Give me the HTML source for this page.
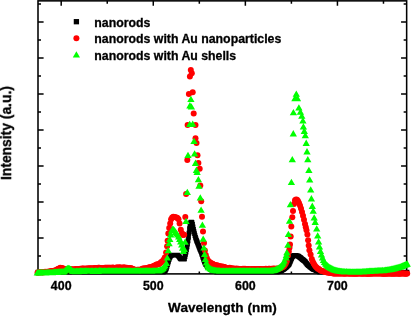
<!DOCTYPE html>
<html><head><meta charset="utf-8"><title>PL spectra</title>
<style>
html,body{margin:0;padding:0;background:#fff;}
body{width:411px;height:316px;overflow:hidden;position:relative;font-family:"Liberation Sans",sans-serif;font-weight:bold;color:#000;}
svg{position:absolute;left:0;top:0;}
.t{position:absolute;white-space:nowrap;line-height:1;-webkit-text-stroke:0.3px #000;filter:blur(0.35px);}
.xl{font-size:12.4px;top:279.7px;width:40px;text-align:center;}
.lg{font-size:12.32px;left:94.3px;}
</style></head><body>
<svg width="411" height="316" viewBox="0 0 411 316">
<defs><filter id="b" x="-5%" y="-5%" width="110%" height="110%"><feGaussianBlur stdDeviation="0.3"/></filter></defs>
<rect x="38.0" y="0.85" width="368.65" height="273.05" fill="none" stroke="#000" stroke-width="1.55"/>
<path d="M61.2 0.85v4.8M61.2 273.9v-4.4M107.24 0.85v2.9M107.24 273.9v-2.4M153.28 0.85v4.8M153.28 273.9v-4.4M199.32 0.85v2.9M199.32 273.9v-2.4M245.36 0.85v4.8M245.36 273.9v-4.4M291.4 0.85v2.9M291.4 273.9v-2.4M337.44 0.85v4.8M337.44 273.9v-4.4M383.48 0.85v2.9M383.48 273.9v-2.4M38 255.9h3M406.65 255.9h-3M38 237.9h5.6M406.65 237.9h-5.6M38 219.9h3M406.65 219.9h-3M38 201.9h5.6M406.65 201.9h-5.6M38 183.9h3M406.65 183.9h-3M38 165.9h5.6M406.65 165.9h-5.6M38 147.9h3M406.65 147.9h-3M38 129.9h5.6M406.65 129.9h-5.6M38 111.9h3M406.65 111.9h-3M38 93.9h5.6M406.65 93.9h-5.6M38 75.9h3M406.65 75.9h-3M38 57.9h5.6M406.65 57.9h-5.6M38 39.9h3M406.65 39.9h-3M38 21.9h5.6M406.65 21.9h-5.6M38 3.9h3M406.65 3.9h-3" stroke="#000" stroke-width="1.5" fill="none"/>
<g filter="url(#b)">
<path d="M35.6 269.8h4.8v4.8h-4.8zM36.1 269.8h4.8v4.8h-4.8zM36.6 269.8h4.8v4.8h-4.8zM37.1 269.8h4.8v4.8h-4.8zM37.6 269.8h4.8v4.8h-4.8zM38.1 269.8h4.8v4.8h-4.8zM38.6 269.8h4.8v4.8h-4.8zM39.1 269.8h4.8v4.8h-4.8zM39.6 269.8h4.8v4.8h-4.8zM40.1 269.8h4.8v4.8h-4.8zM40.6 269.8h4.8v4.8h-4.8zM41.1 269.8h4.8v4.8h-4.8zM41.6 269.8h4.8v4.8h-4.8zM42.1 269.8h4.8v4.8h-4.8zM42.6 269.8h4.8v4.8h-4.8zM43.1 269.8h4.8v4.8h-4.8zM43.6 269.8h4.8v4.8h-4.8zM44.1 269.8h4.8v4.8h-4.8zM44.6 269.8h4.8v4.8h-4.8zM45.1 269.8h4.8v4.8h-4.8zM45.6 269.8h4.8v4.8h-4.8zM46.1 269.8h4.8v4.8h-4.8zM46.6 269.8h4.8v4.8h-4.8zM47.1 269.8h4.8v4.8h-4.8zM47.6 269.8h4.8v4.8h-4.8zM48.1 269.8h4.8v4.8h-4.8zM48.6 269.8h4.8v4.8h-4.8zM49.1 269.8h4.8v4.8h-4.8zM49.6 269.8h4.8v4.8h-4.8zM50.1 269.8h4.8v4.8h-4.8zM50.6 269.8h4.8v4.8h-4.8zM51.1 269.8h4.8v4.8h-4.8zM51.6 269.8h4.8v4.8h-4.8zM52.1 269.8h4.8v4.8h-4.8zM52.6 269.8h4.8v4.8h-4.8zM53.1 269.8h4.8v4.8h-4.8zM53.6 269.8h4.8v4.8h-4.8zM54.1 269.8h4.8v4.8h-4.8zM54.6 269.8h4.8v4.8h-4.8zM55.1 269.8h4.8v4.8h-4.8zM55.6 269.8h4.8v4.8h-4.8zM56.1 269.8h4.8v4.8h-4.8zM56.6 269.8h4.8v4.8h-4.8zM57.1 269.8h4.8v4.8h-4.8zM57.6 269.8h4.8v4.8h-4.8zM58.1 269.8h4.8v4.8h-4.8zM58.6 269.8h4.8v4.8h-4.8zM59.1 269.8h4.8v4.8h-4.8zM59.6 269.8h4.8v4.8h-4.8zM60.1 269.8h4.8v4.8h-4.8zM60.6 269.8h4.8v4.8h-4.8zM61.1 269.8h4.8v4.8h-4.8zM61.6 269.8h4.8v4.8h-4.8zM62.1 269.8h4.8v4.8h-4.8zM62.6 269.8h4.8v4.8h-4.8zM63.1 269.8h4.8v4.8h-4.8zM63.6 269.8h4.8v4.8h-4.8zM64.1 269.8h4.8v4.8h-4.8zM64.6 269.8h4.8v4.8h-4.8zM65.1 269.8h4.8v4.8h-4.8zM65.6 269.8h4.8v4.8h-4.8zM66.1 269.8h4.8v4.8h-4.8zM66.6 269.8h4.8v4.8h-4.8zM67.1 269.8h4.8v4.8h-4.8zM67.6 269.8h4.8v4.8h-4.8zM68.1 269.8h4.8v4.8h-4.8zM68.6 269.8h4.8v4.8h-4.8zM69.1 269.8h4.8v4.8h-4.8zM69.6 269.8h4.8v4.8h-4.8zM70.1 269.8h4.8v4.8h-4.8zM70.6 269.8h4.8v4.8h-4.8zM71.1 269.8h4.8v4.8h-4.8zM71.6 269.8h4.8v4.8h-4.8zM72.1 269.8h4.8v4.8h-4.8zM72.6 269.8h4.8v4.8h-4.8zM73.1 269.8h4.8v4.8h-4.8zM73.6 269.8h4.8v4.8h-4.8zM74.1 269.8h4.8v4.8h-4.8zM74.6 269.8h4.8v4.8h-4.8zM75.1 269.8h4.8v4.8h-4.8zM75.6 269.8h4.8v4.8h-4.8zM76.1 269.8h4.8v4.8h-4.8zM76.6 269.8h4.8v4.8h-4.8zM77.1 269.8h4.8v4.8h-4.8zM77.6 269.8h4.8v4.8h-4.8zM78.1 269.8h4.8v4.8h-4.8zM78.6 269.8h4.8v4.8h-4.8zM79.1 269.8h4.8v4.8h-4.8zM79.6 269.8h4.8v4.8h-4.8zM80.1 269.8h4.8v4.8h-4.8zM80.6 269.8h4.8v4.8h-4.8zM81.1 269.8h4.8v4.8h-4.8zM81.6 269.8h4.8v4.8h-4.8zM82.1 269.8h4.8v4.8h-4.8zM82.6 269.8h4.8v4.8h-4.8zM83.1 269.8h4.8v4.8h-4.8zM83.6 269.8h4.8v4.8h-4.8zM84.1 269.8h4.8v4.8h-4.8zM84.6 269.8h4.8v4.8h-4.8zM85.1 269.8h4.8v4.8h-4.8zM85.6 269.8h4.8v4.8h-4.8zM86.1 269.8h4.8v4.8h-4.8zM86.6 269.8h4.8v4.8h-4.8zM87.1 269.8h4.8v4.8h-4.8zM87.6 269.8h4.8v4.8h-4.8zM88.1 269.8h4.8v4.8h-4.8zM88.6 269.8h4.8v4.8h-4.8zM89.1 269.8h4.8v4.8h-4.8zM89.6 269.8h4.8v4.8h-4.8zM90.1 269.8h4.8v4.8h-4.8zM90.6 269.8h4.8v4.8h-4.8zM91.1 269.8h4.8v4.8h-4.8zM91.6 269.8h4.8v4.8h-4.8zM92.1 269.8h4.8v4.8h-4.8zM92.6 269.8h4.8v4.8h-4.8zM93.1 269.8h4.8v4.8h-4.8zM93.6 269.8h4.8v4.8h-4.8zM94.1 269.8h4.8v4.8h-4.8zM94.6 269.8h4.8v4.8h-4.8zM95.1 269.8h4.8v4.8h-4.8zM95.6 269.8h4.8v4.8h-4.8zM96.1 269.8h4.8v4.8h-4.8zM96.6 269.8h4.8v4.8h-4.8zM97.1 269.8h4.8v4.8h-4.8zM97.6 269.8h4.8v4.8h-4.8zM98.1 269.8h4.8v4.8h-4.8zM98.6 269.8h4.8v4.8h-4.8zM99.1 269.8h4.8v4.8h-4.8zM99.6 269.8h4.8v4.8h-4.8zM100.1 269.8h4.8v4.8h-4.8zM100.6 269.8h4.8v4.8h-4.8zM101.1 269.8h4.8v4.8h-4.8zM101.6 269.8h4.8v4.8h-4.8zM102.1 269.8h4.8v4.8h-4.8zM102.6 269.8h4.8v4.8h-4.8zM103.1 269.8h4.8v4.8h-4.8zM103.6 269.8h4.8v4.8h-4.8zM104.1 269.8h4.8v4.8h-4.8zM104.6 269.8h4.8v4.8h-4.8zM105.1 269.8h4.8v4.8h-4.8zM105.6 269.8h4.8v4.8h-4.8zM106.1 269.8h4.8v4.8h-4.8zM106.6 269.8h4.8v4.8h-4.8zM107.1 269.8h4.8v4.8h-4.8zM107.6 269.8h4.8v4.8h-4.8zM108.1 269.8h4.8v4.8h-4.8zM108.6 269.8h4.8v4.8h-4.8zM109.1 269.8h4.8v4.8h-4.8zM109.6 269.8h4.8v4.8h-4.8zM110.1 269.8h4.8v4.8h-4.8zM110.6 269.8h4.8v4.8h-4.8zM111.1 269.8h4.8v4.8h-4.8zM111.6 269.8h4.8v4.8h-4.8zM112.1 269.8h4.8v4.8h-4.8zM112.6 269.8h4.8v4.8h-4.8zM113.1 269.8h4.8v4.8h-4.8zM113.6 269.8h4.8v4.8h-4.8zM114.1 269.8h4.8v4.8h-4.8zM114.6 269.8h4.8v4.8h-4.8zM115.1 269.8h4.8v4.8h-4.8zM115.6 269.8h4.8v4.8h-4.8zM116.1 269.8h4.8v4.8h-4.8zM116.6 269.8h4.8v4.8h-4.8zM117.1 269.8h4.8v4.8h-4.8zM117.6 269.8h4.8v4.8h-4.8zM118.1 269.8h4.8v4.8h-4.8zM118.6 269.8h4.8v4.8h-4.8zM119.1 269.8h4.8v4.8h-4.8zM119.6 269.8h4.8v4.8h-4.8zM120.1 269.8h4.8v4.8h-4.8zM120.6 269.8h4.8v4.8h-4.8zM121.1 269.8h4.8v4.8h-4.8zM121.6 269.8h4.8v4.8h-4.8zM122.1 269.8h4.8v4.8h-4.8zM122.6 269.8h4.8v4.8h-4.8zM123.1 269.8h4.8v4.8h-4.8zM123.6 269.8h4.8v4.8h-4.8zM124.1 269.8h4.8v4.8h-4.8zM124.6 269.8h4.8v4.8h-4.8zM125.1 269.8h4.8v4.8h-4.8zM125.6 269.8h4.8v4.8h-4.8zM126.1 269.8h4.8v4.8h-4.8zM126.6 269.8h4.8v4.8h-4.8zM127.1 269.8h4.8v4.8h-4.8zM127.6 269.8h4.8v4.8h-4.8zM128.1 269.8h4.8v4.8h-4.8zM128.6 269.8h4.8v4.8h-4.8zM129.1 269.8h4.8v4.8h-4.8zM129.6 269.8h4.8v4.8h-4.8zM130.1 269.8h4.8v4.8h-4.8zM130.6 269.8h4.8v4.8h-4.8zM131.1 269.8h4.8v4.8h-4.8zM131.6 269.8h4.8v4.8h-4.8zM132.1 269.8h4.8v4.8h-4.8zM132.6 269.8h4.8v4.8h-4.8zM133.1 269.8h4.8v4.8h-4.8zM133.6 269.8h4.8v4.8h-4.8zM134.1 269.8h4.8v4.8h-4.8zM134.6 269.8h4.8v4.8h-4.8zM135.1 269.8h4.8v4.8h-4.8zM135.6 269.8h4.8v4.8h-4.8zM136.1 269.8h4.8v4.8h-4.8zM136.6 269.8h4.8v4.8h-4.8zM137.1 269.8h4.8v4.8h-4.8zM137.6 269.8h4.8v4.8h-4.8zM138.1 269.8h4.8v4.8h-4.8zM138.6 269.8h4.8v4.8h-4.8zM139.1 269.8h4.8v4.8h-4.8zM139.6 269.8h4.8v4.8h-4.8zM140.1 269.8h4.8v4.8h-4.8zM140.6 269.8h4.8v4.8h-4.8zM141.1 269.8h4.8v4.8h-4.8zM141.6 269.8h4.8v4.8h-4.8zM142.1 269.8h4.8v4.8h-4.8zM142.6 269.8h4.8v4.8h-4.8zM143.1 269.8h4.8v4.8h-4.8zM143.6 269.8h4.8v4.8h-4.8zM144.1 269.8h4.8v4.8h-4.8zM144.6 269.8h4.8v4.8h-4.8zM145.1 269.8h4.8v4.8h-4.8zM145.6 269.8h4.8v4.8h-4.8zM146.1 269.8h4.8v4.8h-4.8zM146.6 269.8h4.8v4.8h-4.8zM147.1 269.8h4.8v4.8h-4.8zM147.6 269.8h4.8v4.8h-4.8zM148.1 269.8h4.8v4.8h-4.8zM148.6 269.8h4.8v4.8h-4.8zM149.1 269.8h4.8v4.8h-4.8zM149.6 269.8h4.8v4.8h-4.8zM150.1 269.8h4.8v4.8h-4.8zM150.6 269.8h4.8v4.8h-4.8zM151.1 269.8h4.8v4.8h-4.8zM151.6 269.8h4.8v4.8h-4.8zM152.1 269.8h4.8v4.8h-4.8zM152.6 269.8h4.8v4.8h-4.8zM153.1 269.8h4.8v4.8h-4.8zM153.6 269.8h4.8v4.8h-4.8zM154.1 269.8h4.8v4.8h-4.8zM154.6 269.8h4.8v4.8h-4.8zM155.1 269.8h4.8v4.8h-4.8zM155.6 269.8h4.8v4.8h-4.8zM156.1 269.8h4.8v4.8h-4.8zM156.6 269.8h4.8v4.8h-4.8zM157.1 269.8h4.8v4.8h-4.8zM157.6 269.8h4.8v4.8h-4.8zM158.1 269.8h4.8v4.8h-4.8zM158.6 269.8h4.8v4.8h-4.8zM159.1 269.8h4.8v4.8h-4.8zM159.6 269.8h4.8v4.8h-4.8zM160.1 269.8h4.8v4.8h-4.8zM160.6 269.8h4.8v4.8h-4.8zM161.1 269.5h4.8v4.8h-4.8zM161.6 269.2h4.8v4.8h-4.8zM162.1 268.9h4.8v4.8h-4.8zM162.6 268.6h4.8v4.8h-4.8zM163.1 267.6h4.8v4.8h-4.8zM163.6 266.6h4.8v4.8h-4.8zM164.1 265.6h4.8v4.8h-4.8zM164.6 263.93h4.8v4.8h-4.8zM165.1 262.27h4.8v4.8h-4.8zM165.6 260.6h4.8v4.8h-4.8zM166.1 258.93h4.8v4.8h-4.8zM166.6 257.27h4.8v4.8h-4.8zM167.1 255.6h4.8v4.8h-4.8zM167.6 254.6h4.8v4.8h-4.8zM168.1 253.6h4.8v4.8h-4.8zM168.6 253.25h4.8v4.8h-4.8zM169.1 252.9h4.8v4.8h-4.8zM169.6 252.83h4.8v4.8h-4.8zM170.1 252.77h4.8v4.8h-4.8zM170.6 252.7h4.8v4.8h-4.8zM171.1 252.7h4.8v4.8h-4.8zM171.6 252.7h4.8v4.8h-4.8zM172.1 252.7h4.8v4.8h-4.8zM172.6 252.7h4.8v4.8h-4.8zM173.1 252.7h4.8v4.8h-4.8zM173.6 252.7h4.8v4.8h-4.8zM174.1 252.7h4.8v4.8h-4.8zM174.6 252.7h4.8v4.8h-4.8zM175.1 252.85h4.8v4.8h-4.8zM175.6 253h4.8v4.8h-4.8zM176.1 253.55h4.8v4.8h-4.8zM176.6 254.1h4.8v4.8h-4.8zM177.1 254.85h4.8v4.8h-4.8zM177.6 255.6h4.8v4.8h-4.8zM178.1 256.1h4.8v4.8h-4.8zM178.6 256.6h4.8v4.8h-4.8zM179.1 256.77h4.8v4.8h-4.8zM179.6 256.8h4.8v4.8h-4.8zM180.1 256.8h4.8v4.8h-4.8zM180.6 256.8h4.8v4.8h-4.8zM181.1 256.8h4.8v4.8h-4.8zM181.6 256.8h4.8v4.8h-4.8zM182.1 256.35h4.8v4.8h-4.8zM182.6 254.1h4.8v4.8h-4.8zM183.1 251.91h4.8v4.8h-4.8zM183.6 249.6h4.8v4.8h-4.8zM184.1 247.1h4.8v4.8h-4.8zM184.6 244.41h4.8v4.8h-4.8zM185.1 241.6h4.8v4.8h-4.8zM185.6 238.39h4.8v4.8h-4.8zM186.1 234.85h4.8v4.8h-4.8zM186.6 230.8h4.8v4.8h-4.8zM187.1 226.3h4.8v4.8h-4.8zM187.6 222.48h4.8v4.8h-4.8zM188.1 220.43h4.8v4.8h-4.8zM188.6 219.69h4.8v4.8h-4.8zM189.1 219.63h4.8v4.8h-4.8zM189.6 220.31h4.8v4.8h-4.8zM190.1 222.1h4.8v4.8h-4.8zM190.6 224.6h4.8v4.8h-4.8zM191.1 226.99h4.8v4.8h-4.8zM191.6 229.21h4.8v4.8h-4.8zM192.1 231.24h4.8v4.8h-4.8zM192.6 233.14h4.8v4.8h-4.8zM193.1 234.89h4.8v4.8h-4.8zM193.6 236.54h4.8v4.8h-4.8zM194.1 237.96h4.8v4.8h-4.8zM194.6 239.24h4.8v4.8h-4.8zM195.1 240.51h4.8v4.8h-4.8zM195.6 241.78h4.8v4.8h-4.8zM196.1 243.05h4.8v4.8h-4.8zM196.6 244.33h4.8v4.8h-4.8zM197.1 245.6h4.8v4.8h-4.8zM197.6 246.85h4.8v4.8h-4.8zM198.1 248.06h4.8v4.8h-4.8zM198.6 249.2h4.8v4.8h-4.8zM199.1 250.64h4.8v4.8h-4.8zM199.6 252.16h4.8v4.8h-4.8zM200.1 253.8h4.8v4.8h-4.8zM200.6 255.24h4.8v4.8h-4.8zM201.1 256.67h4.8v4.8h-4.8zM201.6 258.02h4.8v4.8h-4.8zM202.1 259.34h4.8v4.8h-4.8zM202.6 260.52h4.8v4.8h-4.8zM203.1 261.7h4.8v4.8h-4.8zM203.6 262.27h4.8v4.8h-4.8zM204.1 262.83h4.8v4.8h-4.8zM204.6 263.4h4.8v4.8h-4.8zM205.1 263.87h4.8v4.8h-4.8zM205.6 264.33h4.8v4.8h-4.8zM206.1 264.8h4.8v4.8h-4.8zM206.6 265.27h4.8v4.8h-4.8zM207.1 265.73h4.8v4.8h-4.8zM207.6 266.2h4.8v4.8h-4.8zM208.1 266.58h4.8v4.8h-4.8zM208.6 266.95h4.8v4.8h-4.8zM209.1 267.33h4.8v4.8h-4.8zM209.6 267.6h4.8v4.8h-4.8zM210.1 267.85h4.8v4.8h-4.8zM210.6 268.1h4.8v4.8h-4.8zM211.1 268.35h4.8v4.8h-4.8zM211.6 268.6h4.8v4.8h-4.8zM212.1 268.77h4.8v4.8h-4.8zM212.6 268.93h4.8v4.8h-4.8zM213.1 269.1h4.8v4.8h-4.8zM213.6 269.27h4.8v4.8h-4.8zM214.1 269.43h4.8v4.8h-4.8zM214.6 269.6h4.8v4.8h-4.8zM215.1 269.63h4.8v4.8h-4.8zM215.6 269.67h4.8v4.8h-4.8zM216.1 269.7h4.8v4.8h-4.8zM216.6 269.73h4.8v4.8h-4.8zM217.1 269.77h4.8v4.8h-4.8zM217.6 269.8h4.8v4.8h-4.8zM218.1 269.8h4.8v4.8h-4.8zM218.6 269.8h4.8v4.8h-4.8zM219.1 269.8h4.8v4.8h-4.8zM219.6 269.8h4.8v4.8h-4.8zM220.1 269.8h4.8v4.8h-4.8zM220.6 269.8h4.8v4.8h-4.8zM221.1 269.8h4.8v4.8h-4.8zM221.6 269.8h4.8v4.8h-4.8zM222.1 269.8h4.8v4.8h-4.8zM222.6 269.8h4.8v4.8h-4.8zM223.1 269.8h4.8v4.8h-4.8zM223.6 269.8h4.8v4.8h-4.8zM224.1 269.8h4.8v4.8h-4.8zM224.6 269.8h4.8v4.8h-4.8zM225.1 269.8h4.8v4.8h-4.8zM225.6 269.8h4.8v4.8h-4.8zM226.1 269.8h4.8v4.8h-4.8zM226.6 269.8h4.8v4.8h-4.8zM227.1 269.8h4.8v4.8h-4.8zM227.6 269.8h4.8v4.8h-4.8zM228.1 269.8h4.8v4.8h-4.8zM228.6 269.8h4.8v4.8h-4.8zM229.1 269.8h4.8v4.8h-4.8zM229.6 269.8h4.8v4.8h-4.8zM230.1 269.8h4.8v4.8h-4.8zM230.6 269.8h4.8v4.8h-4.8zM231.1 269.8h4.8v4.8h-4.8zM231.6 269.8h4.8v4.8h-4.8zM232.1 269.8h4.8v4.8h-4.8zM232.6 269.8h4.8v4.8h-4.8zM233.1 269.8h4.8v4.8h-4.8zM233.6 269.8h4.8v4.8h-4.8zM234.1 269.8h4.8v4.8h-4.8zM234.6 269.8h4.8v4.8h-4.8zM235.1 269.8h4.8v4.8h-4.8zM235.6 269.8h4.8v4.8h-4.8zM236.1 269.8h4.8v4.8h-4.8zM236.6 269.8h4.8v4.8h-4.8zM237.1 269.8h4.8v4.8h-4.8zM237.6 269.8h4.8v4.8h-4.8zM238.1 269.8h4.8v4.8h-4.8zM238.6 269.8h4.8v4.8h-4.8zM239.1 269.8h4.8v4.8h-4.8zM239.6 269.8h4.8v4.8h-4.8zM240.1 269.8h4.8v4.8h-4.8zM240.6 269.8h4.8v4.8h-4.8zM241.1 269.8h4.8v4.8h-4.8zM241.6 269.8h4.8v4.8h-4.8zM242.1 269.8h4.8v4.8h-4.8zM242.6 269.8h4.8v4.8h-4.8zM243.1 269.8h4.8v4.8h-4.8zM243.6 269.8h4.8v4.8h-4.8zM244.1 269.8h4.8v4.8h-4.8zM244.6 269.8h4.8v4.8h-4.8zM245.1 269.8h4.8v4.8h-4.8zM245.6 269.8h4.8v4.8h-4.8zM246.1 269.8h4.8v4.8h-4.8zM246.6 269.8h4.8v4.8h-4.8zM247.1 269.8h4.8v4.8h-4.8zM247.6 269.8h4.8v4.8h-4.8zM248.1 269.8h4.8v4.8h-4.8zM248.6 269.8h4.8v4.8h-4.8zM249.1 269.8h4.8v4.8h-4.8zM249.6 269.8h4.8v4.8h-4.8zM250.1 269.8h4.8v4.8h-4.8zM250.6 269.8h4.8v4.8h-4.8zM251.1 269.8h4.8v4.8h-4.8zM251.6 269.8h4.8v4.8h-4.8zM252.1 269.8h4.8v4.8h-4.8zM252.6 269.8h4.8v4.8h-4.8zM253.1 269.8h4.8v4.8h-4.8zM253.6 269.8h4.8v4.8h-4.8zM254.1 269.8h4.8v4.8h-4.8zM254.6 269.8h4.8v4.8h-4.8zM255.1 269.8h4.8v4.8h-4.8zM255.6 269.8h4.8v4.8h-4.8zM256.1 269.8h4.8v4.8h-4.8zM256.6 269.8h4.8v4.8h-4.8zM257.1 269.8h4.8v4.8h-4.8zM257.6 269.8h4.8v4.8h-4.8zM258.1 269.8h4.8v4.8h-4.8zM258.6 269.8h4.8v4.8h-4.8zM259.1 269.8h4.8v4.8h-4.8zM259.6 269.8h4.8v4.8h-4.8zM260.1 269.8h4.8v4.8h-4.8zM260.6 269.8h4.8v4.8h-4.8zM261.1 269.8h4.8v4.8h-4.8zM261.6 269.8h4.8v4.8h-4.8zM262.1 269.8h4.8v4.8h-4.8zM262.6 269.8h4.8v4.8h-4.8zM263.1 269.8h4.8v4.8h-4.8zM263.6 269.8h4.8v4.8h-4.8zM264.1 269.8h4.8v4.8h-4.8zM264.6 269.8h4.8v4.8h-4.8zM265.1 269.8h4.8v4.8h-4.8zM265.6 269.8h4.8v4.8h-4.8zM266.1 269.8h4.8v4.8h-4.8zM266.6 269.8h4.8v4.8h-4.8zM267.1 269.8h4.8v4.8h-4.8zM267.6 269.8h4.8v4.8h-4.8zM268.1 269.8h4.8v4.8h-4.8zM268.6 269.8h4.8v4.8h-4.8zM269.1 269.8h4.8v4.8h-4.8zM269.6 269.8h4.8v4.8h-4.8zM270.1 269.8h4.8v4.8h-4.8zM270.6 269.8h4.8v4.8h-4.8zM271.1 269.8h4.8v4.8h-4.8zM271.6 269.8h4.8v4.8h-4.8zM272.1 269.8h4.8v4.8h-4.8zM272.6 269.8h4.8v4.8h-4.8zM273.1 269.8h4.8v4.8h-4.8zM273.6 269.8h4.8v4.8h-4.8zM274.1 269.69h4.8v4.8h-4.8zM274.6 269.58h4.8v4.8h-4.8zM275.1 269.46h4.8v4.8h-4.8zM275.6 269.35h4.8v4.8h-4.8zM276.1 269.24h4.8v4.8h-4.8zM276.6 269.12h4.8v4.8h-4.8zM277.1 269.01h4.8v4.8h-4.8zM277.6 268.9h4.8v4.8h-4.8zM278.1 268.63h4.8v4.8h-4.8zM278.6 268.35h4.8v4.8h-4.8zM279.1 268.08h4.8v4.8h-4.8zM279.6 267.81h4.8v4.8h-4.8zM280.1 267.54h4.8v4.8h-4.8zM280.6 267.26h4.8v4.8h-4.8zM281.1 266.94h4.8v4.8h-4.8zM281.6 266.53h4.8v4.8h-4.8zM282.1 266.12h4.8v4.8h-4.8zM282.6 265.71h4.8v4.8h-4.8zM283.1 265.31h4.8v4.8h-4.8zM283.6 264.9h4.8v4.8h-4.8zM284.1 264.42h4.8v4.8h-4.8zM284.6 263.93h4.8v4.8h-4.8zM285.1 263.45h4.8v4.8h-4.8zM285.6 262.97h4.8v4.8h-4.8zM286.1 262.48h4.8v4.8h-4.8zM286.6 262h4.8v4.8h-4.8zM287.1 260.87h4.8v4.8h-4.8zM287.6 259.73h4.8v4.8h-4.8zM288.1 258.6h4.8v4.8h-4.8zM288.6 257.37h4.8v4.8h-4.8zM289.1 256.15h4.8v4.8h-4.8zM289.6 255.05h4.8v4.8h-4.8zM290.1 254.11h4.8v4.8h-4.8zM290.6 253.65h4.8v4.8h-4.8zM291.1 253.2h4.8v4.8h-4.8zM291.6 253.09h4.8v4.8h-4.8zM292.1 252.99h4.8v4.8h-4.8zM292.6 252.91h4.8v4.8h-4.8zM293.1 252.97h4.8v4.8h-4.8zM293.6 253.05h4.8v4.8h-4.8zM294.1 253.19h4.8v4.8h-4.8zM294.6 253.33h4.8v4.8h-4.8zM295.1 253.46h4.8v4.8h-4.8zM295.6 253.6h4.8v4.8h-4.8zM296.1 253.95h4.8v4.8h-4.8zM296.6 254.29h4.8v4.8h-4.8zM297.1 254.64h4.8v4.8h-4.8zM297.6 254.98h4.8v4.8h-4.8zM298.1 255.33h4.8v4.8h-4.8zM298.6 255.8h4.8v4.8h-4.8zM299.1 256.3h4.8v4.8h-4.8zM299.6 256.69h4.8v4.8h-4.8zM300.1 257.08h4.8v4.8h-4.8zM300.6 257.48h4.8v4.8h-4.8zM301.1 257.87h4.8v4.8h-4.8zM301.6 258.26h4.8v4.8h-4.8zM302.1 258.65h4.8v4.8h-4.8zM302.6 259.04h4.8v4.8h-4.8zM303.1 259.67h4.8v4.8h-4.8zM303.6 260.44h4.8v4.8h-4.8zM304.1 261.07h4.8v4.8h-4.8zM304.6 261.66h4.8v4.8h-4.8zM305.1 262.25h4.8v4.8h-4.8zM305.6 262.76h4.8v4.8h-4.8zM306.1 263.16h4.8v4.8h-4.8zM306.6 263.56h4.8v4.8h-4.8zM307.1 263.96h4.8v4.8h-4.8zM307.6 264.35h4.8v4.8h-4.8zM308.1 264.74h4.8v4.8h-4.8zM308.6 265.12h4.8v4.8h-4.8zM309.1 265.5h4.8v4.8h-4.8zM309.6 265.88h4.8v4.8h-4.8zM310.1 266.26h4.8v4.8h-4.8zM310.6 266.65h4.8v4.8h-4.8zM311.1 266.92h4.8v4.8h-4.8zM311.6 267.12h4.8v4.8h-4.8zM312.1 267.32h4.8v4.8h-4.8zM312.6 267.52h4.8v4.8h-4.8zM313.1 267.72h4.8v4.8h-4.8zM313.6 267.92h4.8v4.8h-4.8zM314.1 268.12h4.8v4.8h-4.8zM314.6 268.32h4.8v4.8h-4.8zM315.1 268.52h4.8v4.8h-4.8zM315.6 268.73h4.8v4.8h-4.8zM316.1 268.95h4.8v4.8h-4.8zM316.6 269.17h4.8v4.8h-4.8zM317.1 269.38h4.8v4.8h-4.8zM317.6 269.6h4.8v4.8h-4.8zM318.1 269.65h4.8v4.8h-4.8zM318.6 269.7h4.8v4.8h-4.8zM319.1 269.75h4.8v4.8h-4.8zM319.6 269.8h4.8v4.8h-4.8zM320.1 269.8h4.8v4.8h-4.8zM320.6 269.8h4.8v4.8h-4.8zM321.1 269.8h4.8v4.8h-4.8zM321.6 269.8h4.8v4.8h-4.8zM322.1 269.8h4.8v4.8h-4.8zM322.6 269.8h4.8v4.8h-4.8zM323.1 269.8h4.8v4.8h-4.8zM323.6 269.8h4.8v4.8h-4.8zM324.1 269.8h4.8v4.8h-4.8zM324.6 269.8h4.8v4.8h-4.8zM325.1 269.8h4.8v4.8h-4.8zM325.6 269.8h4.8v4.8h-4.8zM326.1 269.8h4.8v4.8h-4.8zM326.6 269.8h4.8v4.8h-4.8zM327.1 269.8h4.8v4.8h-4.8zM327.6 269.8h4.8v4.8h-4.8zM328.1 269.8h4.8v4.8h-4.8zM328.6 269.8h4.8v4.8h-4.8zM329.1 269.8h4.8v4.8h-4.8zM329.6 269.8h4.8v4.8h-4.8zM330.1 269.8h4.8v4.8h-4.8zM330.6 269.8h4.8v4.8h-4.8zM331.1 269.8h4.8v4.8h-4.8zM331.6 269.8h4.8v4.8h-4.8zM332.1 269.8h4.8v4.8h-4.8zM332.6 269.8h4.8v4.8h-4.8zM333.1 269.8h4.8v4.8h-4.8zM333.6 269.8h4.8v4.8h-4.8zM334.1 269.8h4.8v4.8h-4.8zM334.6 269.8h4.8v4.8h-4.8zM335.1 269.8h4.8v4.8h-4.8zM335.6 269.8h4.8v4.8h-4.8zM336.1 269.8h4.8v4.8h-4.8zM336.6 269.8h4.8v4.8h-4.8zM337.1 269.8h4.8v4.8h-4.8zM337.6 269.8h4.8v4.8h-4.8zM338.1 269.8h4.8v4.8h-4.8zM338.6 269.8h4.8v4.8h-4.8zM339.1 269.8h4.8v4.8h-4.8zM339.6 269.8h4.8v4.8h-4.8zM340.1 269.8h4.8v4.8h-4.8zM340.6 269.8h4.8v4.8h-4.8zM341.1 269.8h4.8v4.8h-4.8zM341.6 269.8h4.8v4.8h-4.8zM342.1 269.8h4.8v4.8h-4.8zM342.6 269.8h4.8v4.8h-4.8zM343.1 269.8h4.8v4.8h-4.8zM343.6 269.8h4.8v4.8h-4.8zM344.1 269.8h4.8v4.8h-4.8zM344.6 269.8h4.8v4.8h-4.8zM345.1 269.8h4.8v4.8h-4.8zM345.6 269.8h4.8v4.8h-4.8zM346.1 269.8h4.8v4.8h-4.8zM346.6 269.8h4.8v4.8h-4.8zM347.1 269.8h4.8v4.8h-4.8zM347.6 269.8h4.8v4.8h-4.8zM348.1 269.8h4.8v4.8h-4.8zM348.6 269.8h4.8v4.8h-4.8zM349.1 269.8h4.8v4.8h-4.8zM349.6 269.8h4.8v4.8h-4.8zM350.1 269.8h4.8v4.8h-4.8zM350.6 269.8h4.8v4.8h-4.8zM351.1 269.8h4.8v4.8h-4.8zM351.6 269.8h4.8v4.8h-4.8zM352.1 269.8h4.8v4.8h-4.8zM352.6 269.8h4.8v4.8h-4.8zM353.1 269.8h4.8v4.8h-4.8zM353.6 269.8h4.8v4.8h-4.8zM354.1 269.8h4.8v4.8h-4.8zM354.6 269.8h4.8v4.8h-4.8zM355.1 269.8h4.8v4.8h-4.8zM355.6 269.8h4.8v4.8h-4.8zM356.1 269.8h4.8v4.8h-4.8zM356.6 269.8h4.8v4.8h-4.8zM357.1 269.8h4.8v4.8h-4.8zM357.6 269.8h4.8v4.8h-4.8zM358.1 269.8h4.8v4.8h-4.8zM358.6 269.8h4.8v4.8h-4.8zM359.1 269.8h4.8v4.8h-4.8zM359.6 269.8h4.8v4.8h-4.8zM360.1 269.8h4.8v4.8h-4.8zM360.6 269.8h4.8v4.8h-4.8zM361.1 269.8h4.8v4.8h-4.8zM361.6 269.8h4.8v4.8h-4.8zM362.1 269.8h4.8v4.8h-4.8zM362.6 269.8h4.8v4.8h-4.8zM363.1 269.8h4.8v4.8h-4.8zM363.6 269.8h4.8v4.8h-4.8zM364.1 269.8h4.8v4.8h-4.8zM364.6 269.8h4.8v4.8h-4.8zM365.1 269.8h4.8v4.8h-4.8zM365.6 269.8h4.8v4.8h-4.8zM366.1 269.8h4.8v4.8h-4.8zM366.6 269.8h4.8v4.8h-4.8zM367.1 269.8h4.8v4.8h-4.8zM367.6 269.8h4.8v4.8h-4.8zM368.1 269.8h4.8v4.8h-4.8zM368.6 269.8h4.8v4.8h-4.8zM369.1 269.8h4.8v4.8h-4.8zM369.6 269.8h4.8v4.8h-4.8zM370.1 269.8h4.8v4.8h-4.8zM370.6 269.8h4.8v4.8h-4.8zM371.1 269.8h4.8v4.8h-4.8zM371.6 269.8h4.8v4.8h-4.8zM372.1 269.8h4.8v4.8h-4.8zM372.6 269.8h4.8v4.8h-4.8zM373.1 269.8h4.8v4.8h-4.8zM373.6 269.8h4.8v4.8h-4.8zM374.1 269.8h4.8v4.8h-4.8zM374.6 269.8h4.8v4.8h-4.8zM375.1 269.8h4.8v4.8h-4.8zM375.6 269.8h4.8v4.8h-4.8zM376.1 269.8h4.8v4.8h-4.8zM376.6 269.8h4.8v4.8h-4.8zM377.1 269.8h4.8v4.8h-4.8zM377.6 269.8h4.8v4.8h-4.8zM378.1 269.8h4.8v4.8h-4.8zM378.6 269.8h4.8v4.8h-4.8zM379.1 269.8h4.8v4.8h-4.8zM379.6 269.8h4.8v4.8h-4.8zM380.1 269.8h4.8v4.8h-4.8zM380.6 269.8h4.8v4.8h-4.8zM381.1 269.8h4.8v4.8h-4.8zM381.6 269.8h4.8v4.8h-4.8zM382.1 269.8h4.8v4.8h-4.8zM382.6 269.8h4.8v4.8h-4.8zM383.1 269.8h4.8v4.8h-4.8zM383.6 269.8h4.8v4.8h-4.8zM384.1 269.8h4.8v4.8h-4.8zM384.6 269.8h4.8v4.8h-4.8zM385.1 269.8h4.8v4.8h-4.8zM385.6 269.8h4.8v4.8h-4.8zM386.1 269.8h4.8v4.8h-4.8zM386.6 269.8h4.8v4.8h-4.8zM387.1 269.8h4.8v4.8h-4.8zM387.6 269.8h4.8v4.8h-4.8zM388.1 269.8h4.8v4.8h-4.8zM388.6 269.8h4.8v4.8h-4.8zM389.1 269.8h4.8v4.8h-4.8zM389.6 269.8h4.8v4.8h-4.8zM390.1 269.8h4.8v4.8h-4.8zM390.6 269.8h4.8v4.8h-4.8zM391.1 269.8h4.8v4.8h-4.8zM391.6 269.8h4.8v4.8h-4.8zM392.1 269.8h4.8v4.8h-4.8zM392.6 269.8h4.8v4.8h-4.8zM393.1 269.8h4.8v4.8h-4.8zM393.6 269.8h4.8v4.8h-4.8zM394.1 269.8h4.8v4.8h-4.8zM394.6 269.8h4.8v4.8h-4.8zM395.1 269.8h4.8v4.8h-4.8zM395.6 269.8h4.8v4.8h-4.8zM396.1 269.8h4.8v4.8h-4.8zM396.6 269.8h4.8v4.8h-4.8zM397.1 269.8h4.8v4.8h-4.8zM397.6 269.8h4.8v4.8h-4.8zM398.1 269.8h4.8v4.8h-4.8zM398.6 269.8h4.8v4.8h-4.8zM399.1 269.8h4.8v4.8h-4.8zM399.6 269.8h4.8v4.8h-4.8zM400.1 269.8h4.8v4.8h-4.8zM400.6 269.8h4.8v4.8h-4.8zM401.1 269.8h4.8v4.8h-4.8zM401.6 269.8h4.8v4.8h-4.8zM402.1 269.8h4.8v4.8h-4.8zM402.6 269.8h4.8v4.8h-4.8zM403.1 269.8h4.8v4.8h-4.8zM403.6 269.8h4.8v4.8h-4.8zM404.1 269.8h4.8v4.8h-4.8zM404.6 269.8h4.8v4.8h-4.8z" fill="#000"/>
<g fill="#f00"><circle cx="37.5" cy="272.73" r="3"/><circle cx="38.45" cy="272.31" r="3"/><circle cx="39.4" cy="272.44" r="3"/><circle cx="40.35" cy="272.27" r="3"/><circle cx="41.3" cy="271.98" r="3"/><circle cx="42.25" cy="272.43" r="3"/><circle cx="43.2" cy="272.21" r="3"/><circle cx="44.15" cy="272.31" r="3"/><circle cx="45.1" cy="271.81" r="3"/><circle cx="46.05" cy="271.96" r="3"/><circle cx="47" cy="271.83" r="3"/><circle cx="47.95" cy="271.94" r="3"/><circle cx="48.9" cy="271.41" r="3"/><circle cx="49.85" cy="271.44" r="3"/><circle cx="50.8" cy="271.37" r="3"/><circle cx="51.75" cy="270.92" r="3"/><circle cx="52.7" cy="271.09" r="3"/><circle cx="53.65" cy="270.99" r="3"/><circle cx="54.6" cy="270.52" r="3"/><circle cx="55.55" cy="270.42" r="3"/><circle cx="56.5" cy="269.97" r="3"/><circle cx="57.45" cy="269.13" r="3"/><circle cx="58.4" cy="268.66" r="3"/><circle cx="59.35" cy="268.54" r="3"/><circle cx="60.3" cy="267.82" r="3"/><circle cx="61.25" cy="267.93" r="3"/><circle cx="62.2" cy="268.08" r="3"/><circle cx="63.15" cy="268.64" r="3"/><circle cx="64.1" cy="268.84" r="3"/><circle cx="65.05" cy="269.6" r="3"/><circle cx="66" cy="269.44" r="3"/><circle cx="66.95" cy="269.53" r="3"/><circle cx="67.9" cy="269.6" r="3"/><circle cx="68.85" cy="269.32" r="3"/><circle cx="69.8" cy="269.53" r="3"/><circle cx="70.75" cy="269.24" r="3"/><circle cx="71.7" cy="269.15" r="3"/><circle cx="72.65" cy="269.49" r="3"/><circle cx="73.6" cy="269.42" r="3"/><circle cx="74.55" cy="269.42" r="3"/><circle cx="75.5" cy="269.05" r="3"/><circle cx="76.45" cy="269.22" r="3"/><circle cx="77.4" cy="268.93" r="3"/><circle cx="78.35" cy="269.3" r="3"/><circle cx="79.3" cy="269.21" r="3"/><circle cx="80.25" cy="268.74" r="3"/><circle cx="81.2" cy="269.15" r="3"/><circle cx="82.15" cy="268.59" r="3"/><circle cx="83.1" cy="268.49" r="3"/><circle cx="84.05" cy="268.89" r="3"/><circle cx="85" cy="268.56" r="3"/><circle cx="85.95" cy="268.67" r="3"/><circle cx="86.9" cy="268.71" r="3"/><circle cx="87.85" cy="268.25" r="3"/><circle cx="88.8" cy="268.69" r="3"/><circle cx="89.75" cy="268.32" r="3"/><circle cx="90.7" cy="268.39" r="3"/><circle cx="91.65" cy="268.28" r="3"/><circle cx="92.6" cy="268.51" r="3"/><circle cx="93.55" cy="268.47" r="3"/><circle cx="94.5" cy="268.11" r="3"/><circle cx="95.45" cy="267.93" r="3"/><circle cx="96.4" cy="268.03" r="3"/><circle cx="97.35" cy="268.06" r="3"/><circle cx="98.3" cy="267.78" r="3"/><circle cx="99.25" cy="267.79" r="3"/><circle cx="100.2" cy="268.18" r="3"/><circle cx="101.15" cy="268.11" r="3"/><circle cx="102.1" cy="268.29" r="3"/><circle cx="103.05" cy="268.27" r="3"/><circle cx="104" cy="268.17" r="3"/><circle cx="104.95" cy="267.8" r="3"/><circle cx="105.9" cy="267.63" r="3"/><circle cx="106.85" cy="267.71" r="3"/><circle cx="107.8" cy="267.79" r="3"/><circle cx="108.75" cy="267.82" r="3"/><circle cx="109.7" cy="267.81" r="3"/><circle cx="110.65" cy="267.66" r="3"/><circle cx="111.6" cy="267.98" r="3"/><circle cx="112.55" cy="267.56" r="3"/><circle cx="113.5" cy="267.67" r="3"/><circle cx="114.45" cy="267.97" r="3"/><circle cx="115.4" cy="267.91" r="3"/><circle cx="116.35" cy="267.56" r="3"/><circle cx="117.3" cy="267.52" r="3"/><circle cx="118.25" cy="267.91" r="3"/><circle cx="119.2" cy="267.36" r="3"/><circle cx="120.15" cy="267.44" r="3"/><circle cx="121.1" cy="267.72" r="3"/><circle cx="122.05" cy="267.73" r="3"/><circle cx="123" cy="267.49" r="3"/><circle cx="123.95" cy="267.44" r="3"/><circle cx="124.9" cy="267.58" r="3"/><circle cx="125.85" cy="268" r="3"/><circle cx="126.8" cy="267.81" r="3"/><circle cx="127.75" cy="268.2" r="3"/><circle cx="128.7" cy="268.09" r="3"/><circle cx="129.65" cy="268.43" r="3"/><circle cx="130.6" cy="268.05" r="3"/><circle cx="131.55" cy="268.44" r="3"/><circle cx="132.5" cy="268.66" r="3"/><circle cx="133.45" cy="269.33" r="3"/><circle cx="134.4" cy="269.65" r="3"/><circle cx="135.35" cy="269.69" r="3"/><circle cx="136.3" cy="270.03" r="3"/><circle cx="137.25" cy="269.72" r="3"/><circle cx="138.2" cy="269.87" r="3"/><circle cx="139.15" cy="269.82" r="3"/><circle cx="140.1" cy="270.17" r="3"/><circle cx="141.05" cy="269.48" r="3"/><circle cx="142" cy="268.94" r="3"/><circle cx="142.95" cy="268.43" r="3"/><circle cx="143.9" cy="268.5" r="3"/><circle cx="144.85" cy="268.45" r="3"/><circle cx="145.8" cy="268.29" r="3"/><circle cx="146.75" cy="268.26" r="3"/><circle cx="147.7" cy="267.99" r="3"/><circle cx="148.65" cy="267.4" r="3"/><circle cx="149.6" cy="267.13" r="3"/><circle cx="150.55" cy="267.28" r="3"/><circle cx="151.5" cy="266.96" r="3"/><circle cx="152.45" cy="266.42" r="3"/><circle cx="153.4" cy="266.3" r="3"/><circle cx="154.35" cy="265.76" r="3"/><circle cx="155.3" cy="265.22" r="3"/><circle cx="156.25" cy="264.8" r="3"/><circle cx="157.2" cy="264.35" r="3"/><circle cx="158.15" cy="264.39" r="3"/><circle cx="159.1" cy="263.88" r="3"/><circle cx="160.05" cy="263.2" r="3"/><circle cx="161" cy="262.2" r="3"/><circle cx="161.95" cy="261.65" r="3"/><circle cx="162.9" cy="260.68" r="3"/><circle cx="163.85" cy="259.41" r="3"/><circle cx="164.8" cy="257.41" r="3"/><circle cx="166.1" cy="252.4" r="3"/><circle cx="167.1" cy="246.3" r="3"/><circle cx="167.6" cy="240.7" r="3"/><circle cx="168.3" cy="233.5" r="3"/><circle cx="169.2" cy="228" r="3"/><circle cx="170.2" cy="223.5" r="3"/><circle cx="171.1" cy="219.3" r="3"/><circle cx="172.2" cy="217.5" r="3"/><circle cx="173.3" cy="216.8" r="3"/><circle cx="174.3" cy="217" r="3"/><circle cx="175.4" cy="217.2" r="3"/><circle cx="176.5" cy="217.6" r="3"/><circle cx="177.5" cy="218.1" r="3"/><circle cx="178.5" cy="219.2" r="3"/><circle cx="179.6" cy="223.4" r="3"/><circle cx="180.8" cy="229.8" r="3"/><circle cx="182" cy="233.2" r="3"/><circle cx="183" cy="235" r="3"/><circle cx="184.2" cy="234.8" r="3"/><circle cx="185.3" cy="217" r="3"/><circle cx="186.1" cy="193.9" r="3"/><circle cx="187.3" cy="160.1" r="3"/><circle cx="187.6" cy="124.9" r="3"/><circle cx="188.9" cy="93.9" r="3"/><circle cx="189.9" cy="76.5" r="3"/><circle cx="190.8" cy="70.1" r="3"/><circle cx="191.8" cy="73.3" r="3"/><circle cx="192.7" cy="92.3" r="3"/><circle cx="193.7" cy="113.6" r="3"/><circle cx="195.5" cy="124.9" r="3"/><circle cx="195.5" cy="138.2" r="3"/><circle cx="196.5" cy="142.9" r="3"/><circle cx="197.5" cy="155.3" r="3"/><circle cx="198.4" cy="162.9" r="3"/><circle cx="199.7" cy="168.7" r="3"/><circle cx="200.3" cy="185.5" r="3"/><circle cx="201.2" cy="201.3" r="3"/><circle cx="202" cy="216.8" r="3"/><circle cx="203" cy="231.6" r="3"/><circle cx="204" cy="243" r="3"/><circle cx="204.9" cy="250.5" r="3"/><circle cx="205.8" cy="255" r="3"/><circle cx="206.8" cy="258" r="3"/><circle cx="207.8" cy="260.2" r="3"/><circle cx="208.8" cy="261.6" r="3"/><circle cx="209.8" cy="262.28" r="3"/><circle cx="210.75" cy="262.98" r="3"/><circle cx="211.7" cy="263.4" r="3"/><circle cx="212.65" cy="263.86" r="3"/><circle cx="213.6" cy="264.53" r="3"/><circle cx="214.55" cy="265.09" r="3"/><circle cx="215.5" cy="265.19" r="3"/><circle cx="216.45" cy="265.34" r="3"/><circle cx="217.4" cy="265.53" r="3"/><circle cx="218.35" cy="265.82" r="3"/><circle cx="219.3" cy="266.25" r="3"/><circle cx="220.25" cy="266.26" r="3"/><circle cx="221.2" cy="266.79" r="3"/><circle cx="222.15" cy="266.52" r="3"/><circle cx="223.1" cy="266.81" r="3"/><circle cx="224.05" cy="267.12" r="3"/><circle cx="225" cy="267.25" r="3"/><circle cx="225.95" cy="267.7" r="3"/><circle cx="226.9" cy="267.88" r="3"/><circle cx="227.85" cy="268.13" r="3"/><circle cx="228.8" cy="268.07" r="3"/><circle cx="229.75" cy="267.84" r="3"/><circle cx="230.7" cy="268.29" r="3"/><circle cx="231.65" cy="268.4" r="3"/><circle cx="232.6" cy="268.48" r="3"/><circle cx="233.55" cy="268.48" r="3"/><circle cx="234.5" cy="268.86" r="3"/><circle cx="235.45" cy="269.06" r="3"/><circle cx="236.4" cy="268.6" r="3"/><circle cx="237.35" cy="268.96" r="3"/><circle cx="238.3" cy="268.81" r="3"/><circle cx="239.25" cy="268.92" r="3"/><circle cx="240.2" cy="269.17" r="3"/><circle cx="241.15" cy="269.23" r="3"/><circle cx="242.1" cy="269.06" r="3"/><circle cx="243.05" cy="268.82" r="3"/><circle cx="244" cy="269.28" r="3"/><circle cx="244.95" cy="268.86" r="3"/><circle cx="245.9" cy="269" r="3"/><circle cx="246.85" cy="269.29" r="3"/><circle cx="247.8" cy="269.01" r="3"/><circle cx="248.75" cy="269.01" r="3"/><circle cx="249.7" cy="269.44" r="3"/><circle cx="250.65" cy="269.46" r="3"/><circle cx="251.6" cy="269.11" r="3"/><circle cx="252.55" cy="269.17" r="3"/><circle cx="253.5" cy="269.13" r="3"/><circle cx="254.45" cy="269.07" r="3"/><circle cx="255.4" cy="269.14" r="3"/><circle cx="256.35" cy="269.56" r="3"/><circle cx="257.3" cy="269" r="3"/><circle cx="258.25" cy="269.07" r="3"/><circle cx="259.2" cy="269.04" r="3"/><circle cx="260.15" cy="268.94" r="3"/><circle cx="261.1" cy="269.19" r="3"/><circle cx="262.05" cy="269.3" r="3"/><circle cx="263" cy="269.34" r="3"/><circle cx="263.95" cy="269.2" r="3"/><circle cx="264.9" cy="269.29" r="3"/><circle cx="265.85" cy="268.79" r="3"/><circle cx="266.8" cy="268.93" r="3"/><circle cx="267.75" cy="269.32" r="3"/><circle cx="268.7" cy="268.77" r="3"/><circle cx="269.65" cy="268.87" r="3"/><circle cx="270.6" cy="268.96" r="3"/><circle cx="271.55" cy="268.79" r="3"/><circle cx="272.5" cy="268.92" r="3"/><circle cx="273.45" cy="268.57" r="3"/><circle cx="274.4" cy="268.65" r="3"/><circle cx="275.35" cy="269.04" r="3"/><circle cx="276.3" cy="268.51" r="3"/><circle cx="277.25" cy="268.92" r="3"/><circle cx="278.2" cy="268.44" r="3"/><circle cx="279.15" cy="268.84" r="3"/><circle cx="280.1" cy="268.32" r="3"/><circle cx="281.05" cy="267.97" r="3"/><circle cx="282" cy="267.34" r="3"/><circle cx="282.95" cy="266.95" r="3"/><circle cx="283.9" cy="266.52" r="3"/><circle cx="284.85" cy="265.07" r="3"/><circle cx="285.8" cy="263.62" r="3"/><circle cx="286.75" cy="261.19" r="3"/><circle cx="288" cy="255.5" r="3"/><circle cx="288.8" cy="251.5" r="3"/><circle cx="289.5" cy="247.8" r="3"/><circle cx="290" cy="244.6" r="3"/><circle cx="290.7" cy="236.4" r="3"/><circle cx="291.3" cy="226.4" r="3"/><circle cx="292.3" cy="217.2" r="3"/><circle cx="293" cy="210.9" r="3"/><circle cx="294" cy="204" r="3"/><circle cx="295" cy="200.2" r="3"/><circle cx="296" cy="199.5" r="3"/><circle cx="297" cy="199.7" r="3"/><circle cx="298" cy="201" r="3"/><circle cx="299" cy="203" r="3"/><circle cx="300" cy="205.6" r="3"/><circle cx="301" cy="208.6" r="3"/><circle cx="302" cy="212" r="3"/><circle cx="303" cy="215.8" r="3"/><circle cx="304" cy="219.8" r="3"/><circle cx="305" cy="224" r="3"/><circle cx="305.8" cy="227.2" r="3"/><circle cx="306.5" cy="230.2" r="3"/><circle cx="307.4" cy="234.5" r="3"/><circle cx="308.1" cy="240.2" r="3"/><circle cx="308.7" cy="245.6" r="3"/><circle cx="309.4" cy="250.2" r="3"/><circle cx="310.6" cy="254.6" r="3"/><circle cx="311.8" cy="258.9" r="3"/><circle cx="312.7" cy="261.4" r="3"/><circle cx="313.7" cy="263.4" r="3"/><circle cx="314.7" cy="265.2" r="3"/><circle cx="315.8" cy="266.7" r="3"/><circle cx="316.9" cy="267.8" r="3"/><circle cx="317.9" cy="268.67" r="3"/><circle cx="318.85" cy="269.12" r="3"/><circle cx="319.8" cy="269.92" r="3"/><circle cx="320.75" cy="270.45" r="3"/><circle cx="321.7" cy="270.89" r="3"/><circle cx="322.65" cy="271.11" r="3"/><circle cx="323.6" cy="271.44" r="3"/><circle cx="324.55" cy="271.83" r="3"/><circle cx="325.5" cy="271.96" r="3"/><circle cx="326.45" cy="272.2" r="3"/><circle cx="327.4" cy="272.47" r="3"/><circle cx="328.35" cy="272.62" r="3"/><circle cx="329.3" cy="272.78" r="3"/><circle cx="330.25" cy="273.01" r="3"/><circle cx="331.2" cy="272.97" r="3"/><circle cx="332.15" cy="273.11" r="3"/><circle cx="333.1" cy="273.38" r="3"/><circle cx="334.05" cy="273.5" r="3"/><circle cx="335" cy="273.51" r="3"/><circle cx="335.95" cy="273.38" r="3"/><circle cx="336.9" cy="273.42" r="3"/><circle cx="337.85" cy="273.56" r="3"/><circle cx="338.8" cy="273.48" r="3"/><circle cx="339.75" cy="273.55" r="3"/><circle cx="340.7" cy="273.48" r="3"/><circle cx="341.65" cy="273.44" r="3"/><circle cx="342.6" cy="273.53" r="3"/><circle cx="343.55" cy="273.62" r="3"/><circle cx="344.5" cy="273.65" r="3"/><circle cx="345.45" cy="273.61" r="3"/><circle cx="346.4" cy="273.59" r="3"/><circle cx="347.35" cy="273.61" r="3"/><circle cx="348.3" cy="273.59" r="3"/><circle cx="349.25" cy="273.61" r="3"/><circle cx="350.2" cy="273.67" r="3"/><circle cx="351.15" cy="273.54" r="3"/><circle cx="352.1" cy="273.62" r="3"/><circle cx="353.05" cy="273.69" r="3"/><circle cx="354" cy="273.67" r="3"/><circle cx="354.95" cy="273.54" r="3"/><circle cx="355.9" cy="273.69" r="3"/><circle cx="356.85" cy="273.67" r="3"/><circle cx="357.8" cy="273.53" r="3"/><circle cx="358.75" cy="273.55" r="3"/><circle cx="359.7" cy="273.54" r="3"/><circle cx="360.65" cy="273.51" r="3"/><circle cx="361.6" cy="273.7" r="3"/><circle cx="362.55" cy="273.58" r="3"/><circle cx="363.5" cy="273.67" r="3"/><circle cx="364.45" cy="273.52" r="3"/><circle cx="365.4" cy="273.5" r="3"/><circle cx="366.35" cy="273.67" r="3"/><circle cx="367.3" cy="273.66" r="3"/><circle cx="368.25" cy="273.7" r="3"/><circle cx="369.2" cy="273.64" r="3"/><circle cx="370.15" cy="273.61" r="3"/><circle cx="371.1" cy="273.65" r="3"/><circle cx="372.05" cy="273.52" r="3"/><circle cx="373" cy="273.61" r="3"/><circle cx="373.95" cy="273.59" r="3"/><circle cx="374.9" cy="273.53" r="3"/><circle cx="375.85" cy="273.62" r="3"/><circle cx="376.8" cy="273.56" r="3"/><circle cx="377.75" cy="273.6" r="3"/><circle cx="378.7" cy="273.57" r="3"/><circle cx="379.65" cy="273.56" r="3"/><circle cx="380.6" cy="273.57" r="3"/><circle cx="381.55" cy="273.62" r="3"/><circle cx="382.5" cy="273.7" r="3"/><circle cx="383.45" cy="273.69" r="3"/><circle cx="384.4" cy="273.67" r="3"/><circle cx="385.35" cy="273.67" r="3"/><circle cx="386.3" cy="273.56" r="3"/><circle cx="387.25" cy="273.7" r="3"/><circle cx="388.2" cy="273.55" r="3"/><circle cx="389.15" cy="273.52" r="3"/><circle cx="390.1" cy="273.6" r="3"/><circle cx="391.05" cy="273.65" r="3"/><circle cx="392" cy="273.57" r="3"/><circle cx="392.95" cy="273.63" r="3"/><circle cx="393.9" cy="273.56" r="3"/><circle cx="394.85" cy="273.69" r="3"/><circle cx="395.8" cy="273.59" r="3"/><circle cx="396.75" cy="273.6" r="3"/><circle cx="397.7" cy="273.61" r="3"/><circle cx="398.65" cy="273.67" r="3"/><circle cx="399.6" cy="273.7" r="3"/><circle cx="400.55" cy="273.61" r="3"/><circle cx="401.5" cy="273.59" r="3"/><circle cx="402.45" cy="273.62" r="3"/><circle cx="403.4" cy="273.51" r="3"/><circle cx="404.35" cy="273.59" r="3"/><circle cx="405.3" cy="273.67" r="3"/><circle cx="406.25" cy="273.66" r="3"/><circle cx="407.2" cy="273.51" r="3"/></g>
<path d="M37.3 269.31l3.65 6.3h-7.3zM38.25 269.02l3.65 6.3h-7.3zM39.2 269.37l3.65 6.3h-7.3zM40.15 269l3.65 6.3h-7.3zM41.1 268.9l3.65 6.3h-7.3zM42.05 269.09l3.65 6.3h-7.3zM43 269.28l3.65 6.3h-7.3zM43.95 269.01l3.65 6.3h-7.3zM44.9 269.26l3.65 6.3h-7.3zM45.85 269.16l3.65 6.3h-7.3zM46.8 268.94l3.65 6.3h-7.3zM47.75 268.9l3.65 6.3h-7.3zM48.7 269.01l3.65 6.3h-7.3zM49.65 268.94l3.65 6.3h-7.3zM50.6 268.88l3.65 6.3h-7.3zM51.55 268.99l3.65 6.3h-7.3zM52.5 269.06l3.65 6.3h-7.3zM53.45 268.82l3.65 6.3h-7.3zM54.4 268.49l3.65 6.3h-7.3zM55.35 268.48l3.65 6.3h-7.3zM56.3 268.51l3.65 6.3h-7.3zM57.25 268.62l3.65 6.3h-7.3zM58.2 268.29l3.65 6.3h-7.3zM59.15 268.21l3.65 6.3h-7.3zM60.1 268.32l3.65 6.3h-7.3zM61.05 268.25l3.65 6.3h-7.3zM62 268.06l3.65 6.3h-7.3zM62.95 268.33l3.65 6.3h-7.3zM63.9 268.07l3.65 6.3h-7.3zM64.85 267.15l3.65 6.3h-7.3zM65.8 266.26l3.65 6.3h-7.3zM66.75 265.47l3.65 6.3h-7.3zM67.7 264.85l3.65 6.3h-7.3zM68.65 264.77l3.65 6.3h-7.3zM69.6 264.91l3.65 6.3h-7.3zM70.55 265.85l3.65 6.3h-7.3zM71.5 266.34l3.65 6.3h-7.3zM72.45 267.44l3.65 6.3h-7.3zM73.4 267.58l3.65 6.3h-7.3zM74.35 267.74l3.65 6.3h-7.3zM75.3 268.02l3.65 6.3h-7.3zM76.25 267.62l3.65 6.3h-7.3zM77.2 267.53l3.65 6.3h-7.3zM78.15 267.87l3.65 6.3h-7.3zM79.1 267.7l3.65 6.3h-7.3zM80.05 267.35l3.65 6.3h-7.3zM81 267.28l3.65 6.3h-7.3zM81.95 267.43l3.65 6.3h-7.3zM82.9 267.19l3.65 6.3h-7.3zM83.85 267.65l3.65 6.3h-7.3zM84.8 267.22l3.65 6.3h-7.3zM85.75 267.26l3.65 6.3h-7.3zM86.7 267.33l3.65 6.3h-7.3zM87.65 267.4l3.65 6.3h-7.3zM88.6 267.35l3.65 6.3h-7.3zM89.55 267.47l3.65 6.3h-7.3zM90.5 267.49l3.65 6.3h-7.3zM91.45 267.35l3.65 6.3h-7.3zM92.4 267.15l3.65 6.3h-7.3zM93.35 267.68l3.65 6.3h-7.3zM94.3 267.5l3.65 6.3h-7.3zM95.25 267.14l3.65 6.3h-7.3zM96.2 267.35l3.65 6.3h-7.3zM97.15 267.53l3.65 6.3h-7.3zM98.1 267.68l3.65 6.3h-7.3zM99.05 267.12l3.65 6.3h-7.3zM100 267.08l3.65 6.3h-7.3zM100.4 267.37l3.65 6.3h-7.3zM101.35 267.35l3.65 6.3h-7.3zM102.3 267.53l3.65 6.3h-7.3zM103.25 267.5l3.65 6.3h-7.3zM104.2 267.31l3.65 6.3h-7.3zM105.15 267.34l3.65 6.3h-7.3zM106.1 267.4l3.65 6.3h-7.3zM107.05 267.52l3.65 6.3h-7.3zM108 267.25l3.65 6.3h-7.3zM108.95 267.32l3.65 6.3h-7.3zM109.9 267.2l3.65 6.3h-7.3zM110.85 267.42l3.65 6.3h-7.3zM111.8 267.17l3.65 6.3h-7.3zM112.75 267.53l3.65 6.3h-7.3zM113.7 267.37l3.65 6.3h-7.3zM114.65 267.39l3.65 6.3h-7.3zM115.6 267.19l3.65 6.3h-7.3zM116.55 267.25l3.65 6.3h-7.3zM117.5 267.34l3.65 6.3h-7.3zM118.45 267.5l3.65 6.3h-7.3zM119.4 267.37l3.65 6.3h-7.3zM120.35 267.26l3.65 6.3h-7.3zM121.3 267.54l3.65 6.3h-7.3zM122.25 267.41l3.65 6.3h-7.3zM123.2 267.36l3.65 6.3h-7.3zM124.15 267.23l3.65 6.3h-7.3zM125.1 267.26l3.65 6.3h-7.3zM126.05 267.5l3.65 6.3h-7.3zM127 267.19l3.65 6.3h-7.3zM127.95 267.35l3.65 6.3h-7.3zM128.9 267.39l3.65 6.3h-7.3zM129.85 267.28l3.65 6.3h-7.3zM130.8 267.44l3.65 6.3h-7.3zM131.75 267.5l3.65 6.3h-7.3zM132.7 267.47l3.65 6.3h-7.3zM133.65 267.43l3.65 6.3h-7.3zM134.6 267.21l3.65 6.3h-7.3zM135.55 267.15l3.65 6.3h-7.3zM136.5 267.3l3.65 6.3h-7.3zM137.45 267.25l3.65 6.3h-7.3zM138.4 267.2l3.65 6.3h-7.3zM139.35 267.47l3.65 6.3h-7.3zM140.3 267.21l3.65 6.3h-7.3zM141.25 267.45l3.65 6.3h-7.3zM142.2 267.49l3.65 6.3h-7.3zM143.15 267.16l3.65 6.3h-7.3zM144.1 267.48l3.65 6.3h-7.3zM145.05 267.27l3.65 6.3h-7.3zM146 267.2l3.65 6.3h-7.3zM146.95 267.19l3.65 6.3h-7.3zM147.9 267.13l3.65 6.3h-7.3zM148.85 267.31l3.65 6.3h-7.3zM149.8 267.26l3.65 6.3h-7.3zM150.75 267.45l3.65 6.3h-7.3zM151.7 267.44l3.65 6.3h-7.3zM152.65 267.13l3.65 6.3h-7.3zM153.6 267.26l3.65 6.3h-7.3zM154.55 267.26l3.65 6.3h-7.3zM155.5 267.15l3.65 6.3h-7.3zM156.45 267.13l3.65 6.3h-7.3zM157.4 267.09l3.65 6.3h-7.3zM158.35 267.21l3.65 6.3h-7.3zM159.3 266.93l3.65 6.3h-7.3zM160.25 266.51l3.65 6.3h-7.3zM161.2 266.14l3.65 6.3h-7.3zM162.15 265.53l3.65 6.3h-7.3zM163.1 264.61l3.65 6.3h-7.3zM164.05 263.23l3.65 6.3h-7.3zM165 261.88l3.65 6.3h-7.3zM166.3 259.6l3.65 6.3h-7.3zM167.3 254.3l3.65 6.3h-7.3zM168.2 247l3.65 6.3h-7.3zM169.1 240l3.65 6.3h-7.3zM169.8 235.8l3.65 6.3h-7.3zM170.6 231.3l3.65 6.3h-7.3zM171.6 227.3l3.65 6.3h-7.3zM172.7 225.5l3.65 6.3h-7.3zM173.7 226.1l3.65 6.3h-7.3zM174.7 227.3l3.65 6.3h-7.3zM175.7 228.6l3.65 6.3h-7.3zM176.7 230l3.65 6.3h-7.3zM177.7 231.3l3.65 6.3h-7.3zM178.7 233.3l3.65 6.3h-7.3zM179.7 235.8l3.65 6.3h-7.3zM180.7 238.3l3.65 6.3h-7.3zM181.7 241.3l3.65 6.3h-7.3zM182.6 244.5l3.65 6.3h-7.3zM183.4 247.6l3.65 6.3h-7.3zM184.3 245.8l3.65 6.3h-7.3zM185.1 238.5l3.65 6.3h-7.3zM186 217.7l3.65 6.3h-7.3zM187.3 188.8l3.65 6.3h-7.3zM188 151.7l3.65 6.3h-7.3zM189.7 120.8l3.65 6.3h-7.3zM189.9 102.1l3.65 6.3h-7.3zM190.9 95.7l3.65 6.3h-7.3zM191.4 103.3l3.65 6.3h-7.3zM192.7 120.5l3.65 6.3h-7.3zM194 137.7l3.65 6.3h-7.3zM194.6 150.2l3.65 6.3h-7.3zM195.5 159.6l3.65 6.3h-7.3zM196.4 166.6l3.65 6.3h-7.3zM197.1 168.7l3.65 6.3h-7.3zM198.4 175.9l3.65 6.3h-7.3zM199 182.5l3.65 6.3h-7.3zM200.3 194.2l3.65 6.3h-7.3zM201.1 206.5l3.65 6.3h-7.3zM202.4 221.5l3.65 6.3h-7.3zM203.2 235.4l3.65 6.3h-7.3zM203.9 244.3l3.65 6.3h-7.3zM204.6 250.8l3.65 6.3h-7.3zM205.4 255.8l3.65 6.3h-7.3zM206.3 259.3l3.65 6.3h-7.3zM207.3 262l3.65 6.3h-7.3zM208.3 263.9l3.65 6.3h-7.3zM209.3 264.23l3.65 6.3h-7.3zM210.25 265.01l3.65 6.3h-7.3zM211.2 265.63l3.65 6.3h-7.3zM212.15 266.04l3.65 6.3h-7.3zM213.1 266.5l3.65 6.3h-7.3zM214.05 266.62l3.65 6.3h-7.3zM215 266.87l3.65 6.3h-7.3zM215.95 267.05l3.65 6.3h-7.3zM216.9 267.11l3.65 6.3h-7.3zM217.85 267.13l3.65 6.3h-7.3zM218.8 267.09l3.65 6.3h-7.3zM219.75 267.33l3.65 6.3h-7.3zM220.7 267.41l3.65 6.3h-7.3zM221.65 267.38l3.65 6.3h-7.3zM222.6 267.42l3.65 6.3h-7.3zM223.55 267.34l3.65 6.3h-7.3zM224.5 267.49l3.65 6.3h-7.3zM225.45 267.44l3.65 6.3h-7.3zM226.4 267.32l3.65 6.3h-7.3zM227.35 267.47l3.65 6.3h-7.3zM228.3 267.5l3.65 6.3h-7.3zM229.25 267.35l3.65 6.3h-7.3zM230.2 267.5l3.65 6.3h-7.3zM231.15 267.38l3.65 6.3h-7.3zM232.1 267.3l3.65 6.3h-7.3zM233.05 267.43l3.65 6.3h-7.3zM234 267.34l3.65 6.3h-7.3zM234.95 267.43l3.65 6.3h-7.3zM235.9 267.39l3.65 6.3h-7.3zM236.85 267.28l3.65 6.3h-7.3zM237.8 267.37l3.65 6.3h-7.3zM238.75 267.45l3.65 6.3h-7.3zM239.7 267.36l3.65 6.3h-7.3zM240.65 267.37l3.65 6.3h-7.3zM241.6 267.45l3.65 6.3h-7.3zM242.55 267.34l3.65 6.3h-7.3zM243.5 267.35l3.65 6.3h-7.3zM244.45 267.37l3.65 6.3h-7.3zM245.4 267.43l3.65 6.3h-7.3zM246.35 267.28l3.65 6.3h-7.3zM247.3 267.25l3.65 6.3h-7.3zM248.25 267.41l3.65 6.3h-7.3zM249.2 267.36l3.65 6.3h-7.3zM250.15 267.29l3.65 6.3h-7.3zM251.1 267.43l3.65 6.3h-7.3zM252.05 267.43l3.65 6.3h-7.3zM253 267.35l3.65 6.3h-7.3zM253.95 267.45l3.65 6.3h-7.3zM254.9 267.41l3.65 6.3h-7.3zM255.85 267.39l3.65 6.3h-7.3zM256.8 267.28l3.65 6.3h-7.3zM257.75 267.21l3.65 6.3h-7.3zM258.7 267.37l3.65 6.3h-7.3zM259.65 267.38l3.65 6.3h-7.3zM260.6 267.28l3.65 6.3h-7.3zM261.55 267.31l3.65 6.3h-7.3zM262.5 267.33l3.65 6.3h-7.3zM263.45 267.25l3.65 6.3h-7.3zM264.4 267.36l3.65 6.3h-7.3zM265.35 267.33l3.65 6.3h-7.3zM266.3 267.28l3.65 6.3h-7.3zM267.25 267.21l3.65 6.3h-7.3zM268.2 267.32l3.65 6.3h-7.3zM269.15 267.26l3.65 6.3h-7.3zM270.1 267.35l3.65 6.3h-7.3zM271.05 267.12l3.65 6.3h-7.3zM272 267.03l3.65 6.3h-7.3zM272.95 266.83l3.65 6.3h-7.3zM273.9 266.64l3.65 6.3h-7.3zM274.85 266.43l3.65 6.3h-7.3zM275.8 265.92l3.65 6.3h-7.3zM276.75 265.43l3.65 6.3h-7.3zM277.7 264.99l3.65 6.3h-7.3zM278.65 264.42l3.65 6.3h-7.3zM279.6 263.85l3.65 6.3h-7.3zM280.55 263.01l3.65 6.3h-7.3zM281.5 262.03l3.65 6.3h-7.3zM282.45 260.79l3.65 6.3h-7.3zM283.4 259.2l3.65 6.3h-7.3zM284.35 257.29l3.65 6.3h-7.3zM285.8 254.1l3.65 6.3h-7.3zM286.4 251.8l3.65 6.3h-7.3zM286.9 249l3.65 6.3h-7.3zM287.9 241.5l3.65 6.3h-7.3zM288.4 230.7l3.65 6.3h-7.3zM289.5 217.5l3.65 6.3h-7.3zM290.4 200.9l3.65 6.3h-7.3zM291.4 178.7l3.65 6.3h-7.3zM292.3 156l3.65 6.3h-7.3zM293.3 130.1l3.65 6.3h-7.3zM293.4 109l3.65 6.3h-7.3zM294.9 94.9l3.65 6.3h-7.3zM296.3 90.5l3.65 6.3h-7.3zM297.5 95l3.65 6.3h-7.3zM298.9 104.2l3.65 6.3h-7.3zM300.4 108.5l3.65 6.3h-7.3zM301.8 112.5l3.65 6.3h-7.3zM302.9 117.2l3.65 6.3h-7.3zM303.4 123.2l3.65 6.3h-7.3zM304.3 127.6l3.65 6.3h-7.3zM305.3 132l3.65 6.3h-7.3zM306.2 139.6l3.65 6.3h-7.3zM307 148.1l3.65 6.3h-7.3zM307.8 156l3.65 6.3h-7.3zM308.9 166.7l3.65 6.3h-7.3zM309.7 176.3l3.65 6.3h-7.3zM310.7 186.2l3.65 6.3h-7.3zM311.4 195.1l3.65 6.3h-7.3zM312.3 202.6l3.65 6.3h-7.3zM313.2 207.5l3.65 6.3h-7.3zM314.2 214.3l3.65 6.3h-7.3zM315.2 218.6l3.65 6.3h-7.3zM316.7 225.3l3.65 6.3h-7.3zM317.7 232.3l3.65 6.3h-7.3zM318.6 238.3l3.65 6.3h-7.3zM319.5 243.3l3.65 6.3h-7.3zM320.5 247.8l3.65 6.3h-7.3zM321.5 251.3l3.65 6.3h-7.3zM322.5 254.3l3.65 6.3h-7.3zM323.5 256.8l3.65 6.3h-7.3zM324.5 258.8l3.65 6.3h-7.3zM325.6 260.3l3.65 6.3h-7.3zM326.5 261.3l3.65 6.3h-7.3zM327.45 262.12l3.65 6.3h-7.3zM328.4 262.9l3.65 6.3h-7.3zM329.35 263.66l3.65 6.3h-7.3zM330.3 264.19l3.65 6.3h-7.3zM331.25 264.8l3.65 6.3h-7.3zM332.2 265.14l3.65 6.3h-7.3zM333.15 265.75l3.65 6.3h-7.3zM334.1 266.13l3.65 6.3h-7.3zM335.05 266.4l3.65 6.3h-7.3zM336 266.66l3.65 6.3h-7.3zM336.95 267.06l3.65 6.3h-7.3zM337.9 267.13l3.65 6.3h-7.3zM338.85 267.38l3.65 6.3h-7.3zM339.8 267.56l3.65 6.3h-7.3zM340.75 267.63l3.65 6.3h-7.3zM341.7 267.74l3.65 6.3h-7.3zM342.65 267.96l3.65 6.3h-7.3zM343.6 268.04l3.65 6.3h-7.3zM344.55 268.08l3.65 6.3h-7.3zM345.5 268.15l3.65 6.3h-7.3zM346.45 268.07l3.65 6.3h-7.3zM347.4 268.21l3.65 6.3h-7.3zM348.35 268.26l3.65 6.3h-7.3zM349.3 268.22l3.65 6.3h-7.3zM350.25 268.3l3.65 6.3h-7.3zM351.2 268.4l3.65 6.3h-7.3zM352.15 268.31l3.65 6.3h-7.3zM353.1 268.39l3.65 6.3h-7.3zM354.05 268.31l3.65 6.3h-7.3zM355 268.41l3.65 6.3h-7.3zM355.95 268.36l3.65 6.3h-7.3zM356.9 268.36l3.65 6.3h-7.3zM357.85 268.3l3.65 6.3h-7.3zM358.8 268.34l3.65 6.3h-7.3zM359.75 268.28l3.65 6.3h-7.3zM360.7 268.2l3.65 6.3h-7.3zM361.65 268.19l3.65 6.3h-7.3zM362.6 268.11l3.65 6.3h-7.3zM363.55 268.11l3.65 6.3h-7.3zM364.5 267.95l3.65 6.3h-7.3zM365.45 267.92l3.65 6.3h-7.3zM366.4 267.86l3.65 6.3h-7.3zM367.35 267.76l3.65 6.3h-7.3zM368.3 267.63l3.65 6.3h-7.3zM369.25 267.58l3.65 6.3h-7.3zM370.2 267.58l3.65 6.3h-7.3zM371.15 267.45l3.65 6.3h-7.3zM372.1 267.49l3.65 6.3h-7.3zM373.05 267.4l3.65 6.3h-7.3zM374 267.42l3.65 6.3h-7.3zM374.95 267.36l3.65 6.3h-7.3zM375.9 267.29l3.65 6.3h-7.3zM376.85 267.19l3.65 6.3h-7.3zM377.8 267.08l3.65 6.3h-7.3zM378.75 267.1l3.65 6.3h-7.3zM379.7 267.08l3.65 6.3h-7.3zM380.65 267.05l3.65 6.3h-7.3zM381.6 266.88l3.65 6.3h-7.3zM382.55 266.81l3.65 6.3h-7.3zM383.5 266.89l3.65 6.3h-7.3zM384.45 266.73l3.65 6.3h-7.3zM385.4 266.55l3.65 6.3h-7.3zM386.35 266.46l3.65 6.3h-7.3zM387.3 266.23l3.65 6.3h-7.3zM388.25 266.16l3.65 6.3h-7.3zM389.2 266.04l3.65 6.3h-7.3zM390.15 265.88l3.65 6.3h-7.3zM391.1 265.6l3.65 6.3h-7.3zM392.05 265.39l3.65 6.3h-7.3zM393 265.25l3.65 6.3h-7.3zM393.95 265.08l3.65 6.3h-7.3zM394.9 264.75l3.65 6.3h-7.3zM395.85 264.52l3.65 6.3h-7.3zM396.8 264.27l3.65 6.3h-7.3zM397.75 264.08l3.65 6.3h-7.3zM398.7 263.72l3.65 6.3h-7.3zM399.65 263.42l3.65 6.3h-7.3zM400.6 263.21l3.65 6.3h-7.3zM401.55 262.8l3.65 6.3h-7.3zM402.5 262.36l3.65 6.3h-7.3zM403.45 262.05l3.65 6.3h-7.3zM404.4 261.55l3.65 6.3h-7.3zM405.35 261.18l3.65 6.3h-7.3zM406.3 260.84l3.65 6.3h-7.3zM407.25 260.33l3.65 6.3h-7.3z" fill="#0f0"/>
<rect x="73.75" y="19.05" width="5.3" height="5.3" fill="#000"/>
<circle cx="76.4" cy="38.3" r="3" fill="#f00"/>
<path d="M76.4 51.2l3.6 6.3h-7.2z" fill="#0f0"/>
</g>
</svg>
<div class="t lg" style="top:16.5px">nanorods</div>
<div class="t lg" style="top:33.2px">nanorods with Au nanoparticles</div>
<div class="t lg" style="top:49.8px">nanorods with Au shells</div>
<div class="t xl" style="left:41.2px">400</div>
<div class="t xl" style="left:133.3px">500</div>
<div class="t xl" style="left:225.4px">600</div>
<div class="t xl" style="left:317.4px">700</div>
<div class="t" style="font-size:13.56px;left:168.1px;top:301.1px">Wavelength (nm)</div>
<div class="t" style="font-size:13.85px;left:7.3px;top:132.6px;transform:translate(-50%,-50%) rotate(-90deg);">Intensity (a.u.)</div>
</body></html>
